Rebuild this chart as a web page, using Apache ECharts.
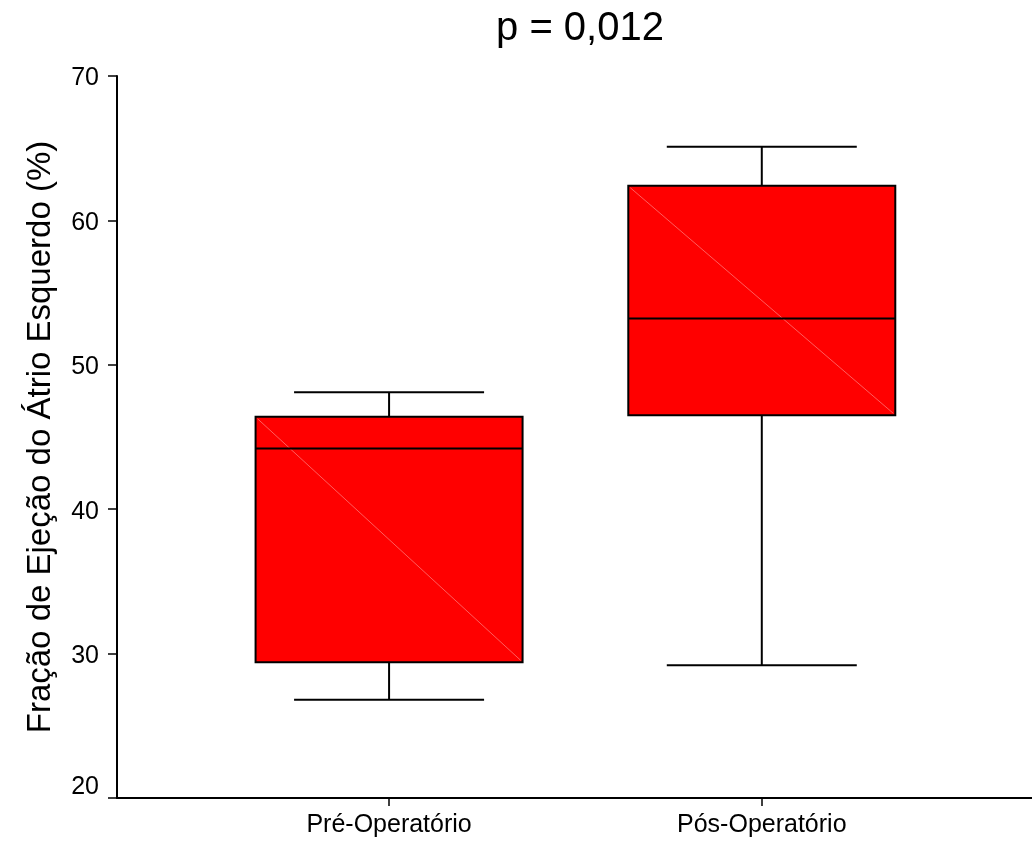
<!DOCTYPE html>
<html>
<head>
<meta charset="utf-8">
<script src="https://cdn.jsdelivr.net/npm/echarts@6/dist/echarts.min.js"></script>
<style>
html,body{margin:0;padding:0;background:#fff;}
#chart{width:1032px;height:843px;}
</style>
</head>
<body>
<div id="chart"></div>
<script>
// ---- data ----
var categories = ['Pré-Operatório', 'Pós-Operatório'];
var positions = [1, 2];
var whiskerMin = [26.8, 29.2];
var q1Values = [29.4, 46.5];
var medianValues = [44.2, 53.2];
var q3Values = [46.4, 62.4];
var whiskerMax = [48.1, 65.1];
var yTicks = [20, 30, 40, 50, 60, 70];
var titleText = 'p = 0,012';
var yAxisTitle = 'Fração de Ejeção do Átrio Esquerdo (%)';

// ---- build series data ----
var boxData = positions.map(function (p, i) {
  return [p, whiskerMin[i], q1Values[i], medianValues[i], q3Values[i], whiskerMax[i]];
});

var BOX_W = 267;   // px
var CAP_W = 190;   // px
var FONT = '"Liberation Sans", Arial, sans-serif';

var chart = echarts.init(document.getElementById('chart'), null, {renderer: 'canvas'});

chart.setOption({
  backgroundColor: '#ffffff',
  animation: false,
  title: {
    text: titleText,
    left: 575,
    textAlign: 'center',
    top: 4,
    textStyle: {fontFamily: FONT, fontSize: 40, fontWeight: 'normal', color: '#000'}
  },
  grid: {left: 117, right: 0, top: 76, bottom: 45},
  xAxis: {
    type: 'value',
    min: 0.27,
    max: 2.725,
    splitLine: {show: false},
    axisLine: {show: true, onZero: false, lineStyle: {color: '#000', width: 2}},
    axisTick: {show: true, customValues: positions, length: 8, lineStyle: {color: '#000', width: 1.5}},
    axisLabel: {
      show: true,
      customValues: positions,
      margin: 15,
      fontFamily: FONT, fontSize: 25, color: '#000',
      formatter: function (v) { return categories[Math.round(v) - 1]; }
    }
  },
  yAxis: {
    type: 'value',
    min: yTicks[0],
    max: yTicks[yTicks.length - 1],
    interval: 10,
    name: yAxisTitle,
    nameLocation: 'middle',
    nameGap: 60,
    nameTextStyle: {fontFamily: FONT, fontSize: 33, color: '#000'},
    splitLine: {show: false},
    axisLine: {show: true, onZero: false, lineStyle: {color: '#000', width: 2}},
    axisTick: {show: true, inside: false, length: 9, lineStyle: {color: '#000', width: 1.5}},
    axisLabel: {
      margin: 18, fontFamily: FONT, fontSize: 25, color: '#000',
      formatter: function (v) {
        return v === yTicks[0] ? '{low|' + v + '}' : '{n|' + v + '}';
      },
      rich: {
        n: {fontFamily: FONT, fontSize: 25, color: '#000', padding: [5, 0, 0, 0]},
        low: {fontFamily: FONT, fontSize: 25, color: '#000', padding: [0, 0, 22, 0]}
      }
    }
  },
  series: [{
    type: 'custom',
    data: boxData,
    encode: {x: 0, y: [1, 2, 3, 4, 5]},
    clip: false,
    renderItem: function (params, api) {
      var x = api.value(0);
      var pMin = api.coord([x, api.value(1)]);
      var pQ1 = api.coord([x, api.value(2)]);
      var pMed = api.coord([x, api.value(3)]);
      var pQ3 = api.coord([x, api.value(4)]);
      var pMax = api.coord([x, api.value(5)]);
      var cx = pMin[0];
      var lineStyle = {stroke: '#000', lineWidth: 2};
      var bx = cx - BOX_W / 2;
      return {
        type: 'group',
        children: [
          {type: 'line', shape: {x1: cx, y1: pMax[1], x2: cx, y2: pQ3[1]}, style: lineStyle},
          {type: 'line', shape: {x1: cx, y1: pQ1[1], x2: cx, y2: pMin[1]}, style: lineStyle},
          {type: 'line', shape: {x1: cx - CAP_W / 2, y1: pMax[1], x2: cx + CAP_W / 2, y2: pMax[1]}, style: lineStyle},
          {type: 'line', shape: {x1: cx - CAP_W / 2, y1: pMin[1], x2: cx + CAP_W / 2, y2: pMin[1]}, style: lineStyle},
          {type: 'rect', shape: {x: bx, y: pQ3[1], width: BOX_W, height: pQ1[1] - pQ3[1]},
            style: {fill: '#ff0000', stroke: '#000', lineWidth: 2}},
          {type: 'line', shape: {x1: bx + 2, y1: pQ3[1] + 2, x2: bx + BOX_W - 2, y2: pQ1[1] - 2},
            style: {stroke: 'rgba(255,170,170,0.55)', lineWidth: 1}},
          {type: 'line', shape: {x1: bx, y1: pMed[1], x2: bx + BOX_W, y2: pMed[1]}, style: lineStyle}
        ]
      };
    }
  }]
});
</script>
</body>
</html>
